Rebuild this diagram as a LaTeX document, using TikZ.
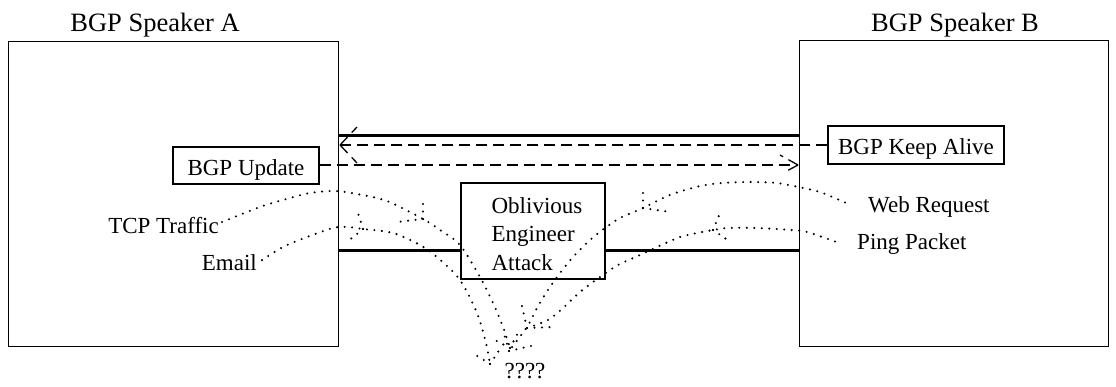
\documentclass[tikz,border=0pt]{standalone}
\usepackage{fontspec}
\setmainfont{Liberation Serif}
\usetikzlibrary{calc}
\begin{document}
\begin{tikzpicture}[x=1pt,y=-1pt,
  lbl/.style={font=\fontsize{23}{28.5}\selectfont, inner sep=0pt},
  ttl/.style={font=\fontsize{26.5}{30}\selectfont, inner sep=0pt},
  boxed/.style={draw, line width=1.2pt, font=\fontsize{23}{28.5}\selectfont, inner sep=0pt},
  frame/.style={draw, line width=1.4pt, inner sep=0pt},
  link/.style={line width=3pt},
  dsh/.style={line width=1.3pt, dash pattern=on 11pt off 6pt},
  dts/.style={line width=2.3pt, line cap=round, dash pattern=on 0pt off 7.5pt},
]
\useasboundingbox (0,0) rectangle (1116,386);

% speakers
\node[frame, minimum width=330pt, minimum height=305pt, anchor=north west] (A) at (8,41) {};
\node[frame, minimum width=309pt, minimum height=306pt, anchor=north west] (B) at (799,40) {};
\node[ttl, anchor=base] (tA) at (155,31) {BGP Speaker A};
\node[ttl, anchor=base] (tB) at (955,31) {BGP Speaker B};

% message boxes
\node[boxed, minimum width=146pt, text height=28pt, text depth=9pt, anchor=base] (upd) at (246,175) {BGP Update};
\node[boxed, minimum width=176pt, text height=28pt, text depth=10pt, anchor=base] (ka) at (916,154) {BGP Keep Alive};

% oblivious engineer
\node[frame, line width=1.2pt, minimum width=144pt, minimum height=96pt] (obl) at (533,231) {};
\node[lbl, align=left] (oblt) at (537,233.7) {Oblivious\\Engineer\\Attack};

% thick links
\coordinate (y1) at (0,135);
\coordinate (y2) at (0,250);
\draw[link] (A.east |- y1) -- (B.west |- y1);
\draw[link] (A.east |- y2) -- (obl.west |- y2);
\draw[link] (obl.east |- y2) -- (B.west |- y2);

% dashed messages
\coordinate (uptip) at (340,145);
\draw[dsh] (ka.west |- uptip) -- (uptip);
\draw[dsh] (uptip) -- ++(17,-18);
\draw[dsh] (uptip) -- ++(17,18);
\coordinate (lowtip) at (798,165);
\draw[dsh] (upd.east |- lowtip) -- (lowtip);
\draw[dsh] (lowtip) -- ++(-18,-10);
\draw[dsh] (lowtip) -- ++(-15,8);

% labels
\node[lbl, anchor=base east] (tcp) at (219,233) {TCP Traffic};
\node[lbl, anchor=base east] (email) at (257,270) {Email};
\node[lbl, anchor=base west] (web) at (868,212) {Web Request};
\node[lbl, anchor=base west] (ping) at (857,249) {Ping Packet};
\node[lbl, anchor=base] (q) at (525,378) {????};

% dotted traffic
\coordinate (tcps) at ($(tcp.east)+(3,-3)$);
\coordinate (tcpmid) at (423,219);
\coordinate (tcpend) at (510,348);
\draw[dts] plot[smooth, tension=0.5] coordinates {(tcps) (260,207) (283,200) (310,193) (335,191) (357,194) (387,201) (tcpmid) (440,230) (460,245) (480,277) (493,303) (503,327) (tcpend)};
\draw[dts] (tcpmid) -- ++(0,-22);
\draw[dts] (tcpmid) -- ++(-26,3);
\draw[dts] (tcpend) -- ++(-19,-10);
\draw[dts] (tcpend) -- ++(10,-19);

\coordinate (ems) at ($(email.east)+(5,-2)$);
\coordinate (emmid) at (363,229);
\coordinate (emend) at (490,364);
\draw[dts] plot[smooth, tension=0.5] coordinates {(ems) (283,247) (307,237) (333,228) (348,227) (emmid) (393,233) (420,245) (438,258) (460,280) (477,313) (486,343) (emend)};
\draw[dts] (emmid) -- ++(-5,-16);
\draw[dts] (emmid) -- ++(-16,13);
\draw[dts] (emend) -- ++(-19,-12);
\draw[dts] (emend) -- ++(12,-18);

\coordinate (wbs) at ($(web.west)+(-23,-4)$);
\coordinate (wbmid) at (643,208);
\coordinate (wbend) at (509,351);
\draw[dts] plot[smooth, tension=0.5] coordinates {(wbs) (820,192) (803,188) (777,183) (750,182) (723,183) (700,186) (670,195) (wbmid) (620,218) (605,228) (590,240) (573,257) (560,273) (548,290) (537,308) (527,327) (wbend)};
\draw[dts] (wbmid) -- ++(0,-22);
\draw[dts] (wbmid) -- ++(27,4);
\draw[dts] (wbend) -- ++(-6,-21);
\draw[dts] (wbend) -- ++(22,-5);

\coordinate (pgs) at ($(ping.west)+(-22,-2)$);
\coordinate (pgmid) at (713,230);
\coordinate (pgend) at (527,328);
\draw[dts] plot[smooth, tension=0.5] coordinates {(pgs) (807,232) (790,230) (757,228) (727,228) (pgmid) (697,233) (680,237) (657,247) (640,255) (618,265) (600,277) (580,292) (563,308) (548,320) (pgend)};
\draw[dts] (pgmid) -- ++(7,-17);
\draw[dts] (pgmid) -- ++(16,11);
\draw[dts] (pgend) -- ++(-6,-26);
\draw[dts] (pgend) -- ++(26,-1);
\end{tikzpicture}
\end{document}
